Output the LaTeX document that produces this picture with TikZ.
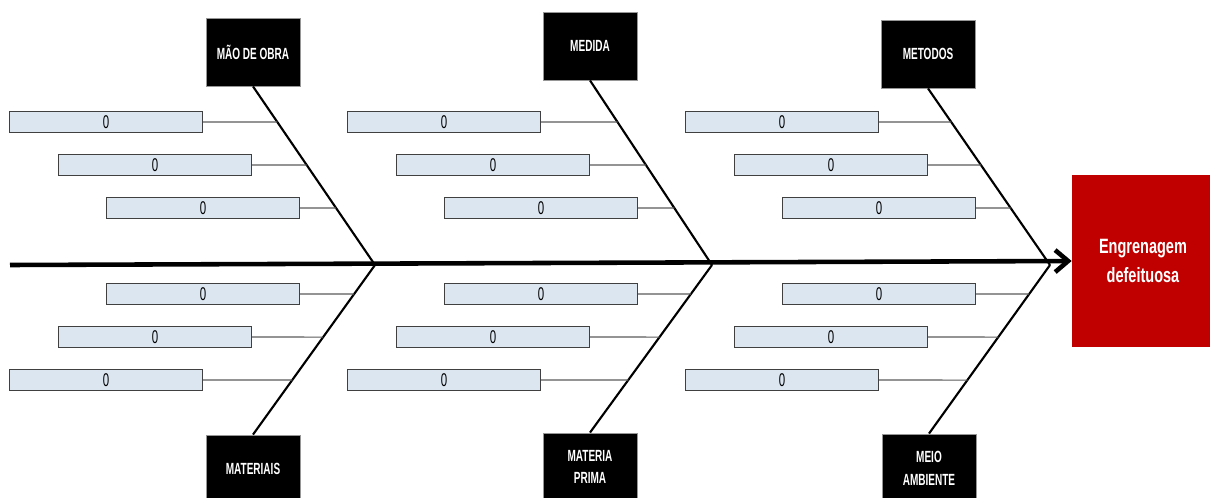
\documentclass[tikz,border=0pt]{standalone}
\usepackage{fontspec}
\newfontfamily\narrowfont[FakeStretch=0.7]{Liberation Sans}
\newfontfamily\slimfont[FakeStretch=0.62]{Liberation Sans}
\usetikzlibrary{arrows.meta,positioning}
\definecolor{CauseFill} {RGB}{220,230,241}
\definecolor{CauseLine} {RGB}{ 64, 64, 64}
\definecolor{LinkGray}  {RGB}{ 90, 90, 90}
\definecolor{FrameGray} {RGB}{150,150,150}
\definecolor{EffectRed} {RGB}{192,  0,  0}

\begin{document}
\begin{tikzpicture}[x=0.02cm,y=-0.02cm,
      cat/.style={rectangle,fill=black,draw=FrameGray,line width=0.5pt,
                  minimum width=18.8mm,minimum height=13.6mm,align=center,
                  text=white,font=\slimfont\bfseries\fontsize{9.2}{13}\selectfont},
      cause/.style={rectangle,fill=CauseFill,draw=CauseLine,line width=0.6pt,
                  minimum width=38.6mm,minimum height=4.2mm,inner sep=0pt,
                  font=\slimfont\fontsize{10.5}{11}\selectfont},
      effect/.style={rectangle,fill=EffectRed,minimum width=28.4mm,
                  minimum height=34.4mm,align=center,text=white,
                  font=\narrowfont\bfseries\fontsize{11.8}{17}\selectfont},
      bone/.style={line width=1.2pt,black},
      link/.style={line width=0.6pt,LinkGray},
      spine/.style={line width=2.6pt,-{Straight Barb[length=2.6mm,width=4.4mm]}}]
    \clip (0,0) rectangle (1210,497);
    % effect and main spine
    \node[effect](eff) at (1143,261){Engrenagem\\defeituosa};
    \coordinate (tail) at (10,265);
    \coordinate (h1) at (375,265);
    \coordinate (h2) at (712,265);
    \coordinate (h3) at (1050,265);
    % categories
    \node[cat](T1) at (253,52){MÃO DE OBRA};
    \node[cat](T2) at (590,46){MEDIDA};
    \node[cat](T3) at (928,54){METODOS};
    \node[cat](B1) at (253,469){MATERIAIS};
    \node[cat](B2) at (590,467){MATERIA\\PRIMA};
    \node[cat](B3) at (929,468){MEIO\\AMBIENTE};
    \draw[spine](tail)--(eff.west);
    \foreach \g/\dx in {1/0,2/338,3/676}{
      \draw[bone](T\g.south)--(h\g);
      \draw[bone](B\g.north)--(h\g);
      % causes above the spine
      \foreach \r/\x/\y in {1/106/122,2/155/165,3/203/208}{
        \node[cause](c\g\r) at (\x+\dx,\y){0};
        \coordinate (f\g\r) at (c\g\r.east -| h\g);
        \draw[link](c\g\r.east)--(intersection of {T\g.south}--{h\g} and {c\g\r.east}--{f\g\r});
      }
      % causes below the spine
      \foreach \r/\x/\y in {4/203/294,5/155/337,6/106/380}{
        \node[cause](c\g\r) at (\x+\dx,\y){0};
        \coordinate (f\g\r) at (c\g\r.east -| h\g);
        \draw[link](c\g\r.east)--(intersection of {B\g.north}--{h\g} and {c\g\r.east}--{f\g\r});
      }
    }
  \end{tikzpicture}
\end{document}
